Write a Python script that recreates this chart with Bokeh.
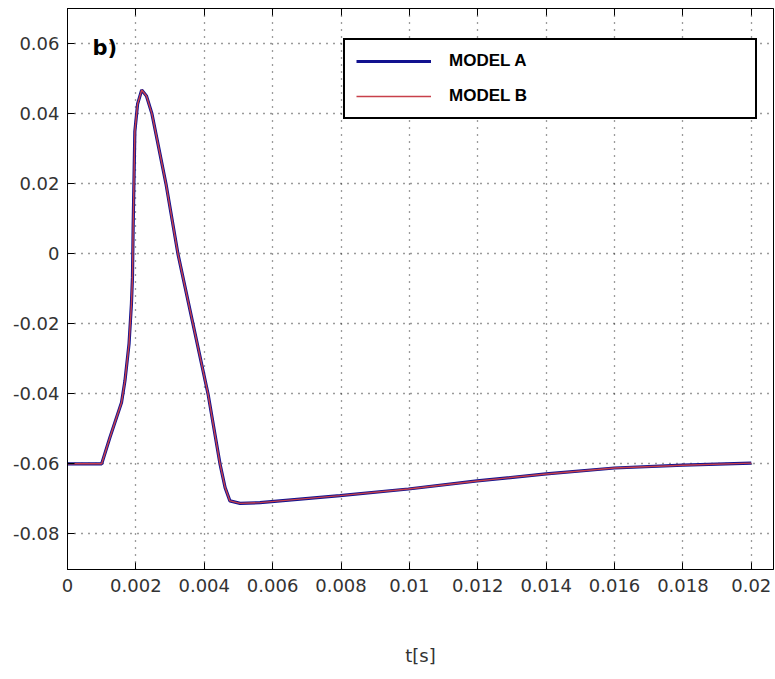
from bokeh.plotting import figure
from bokeh.models import Range1d, FixedTicker, LinearAxis, Label, Legend, LegendItem
from bokeh.embed import file_html
from bokeh.resources import INLINE

# time samples [s] and response of both models
t = [0, 0.001, 0.00124, 0.00158, 0.00168, 0.0018, 0.00187, 0.0019, 0.00192,
     0.00197, 0.00205, 0.00217, 0.00231, 0.00247, 0.00288, 0.00323, 0.00367,
     0.00411, 0.00446, 0.00461, 0.00475, 0.00505, 0.00563, 0.00797, 0.00997,
     0.01198, 0.014, 0.016, 0.018, 0.02]
model_a = [-0.06, -0.06, -0.0525, -0.0425, -0.0363, -0.0257, -0.0143, -0.0068,
           0.0075, 0.035, 0.0428, 0.0468, 0.0451, 0.04, 0.02, 0.0, -0.02, -0.04,
           -0.06, -0.0668, -0.0706, -0.0713, -0.0711, -0.0691, -0.0672, -0.0649,
           -0.0629, -0.0612, -0.0604, -0.0598]
model_b = [-0.06, -0.06, -0.0525, -0.0425, -0.0363, -0.0257, -0.0143, -0.0068,
           0.0075, 0.035, 0.0428, 0.0468, 0.0451, 0.04, 0.02, 0.0, -0.02, -0.04,
           -0.06, -0.0668, -0.0706, -0.0713, -0.0711, -0.0691, -0.0672, -0.0649,
           -0.0629, -0.0612, -0.0604, -0.0598]

x_ticks = [0, 0.002, 0.004, 0.006, 0.008, 0.01, 0.012, 0.014, 0.016, 0.018, 0.02]
x_tick_labels = ["0", "0.002", "0.004", "0.006", "0.008", "0.01", "0.012",
                 "0.014", "0.016", "0.018", "0.02"]
y_ticks = [-0.08, -0.06, -0.04, -0.02, 0, 0.02, 0.04, 0.06]
y_tick_labels = ["-0.08", "-0.06", "-0.04", "-0.02", "0", "0.02", "0.04", "0.06"]

FONT = "DejaVu Sans"
TICK_COLOR = "#333333"

p = figure(width=775, height=679, output_backend="svg", toolbar_location=None,
           x_range=Range1d(0, 0.02065), y_range=Range1d(-0.0902, 0.0701),
           min_border_left=67, min_border_right=2, min_border_top=8,
           min_border_bottom=110)
p.background_fill_color = "white"
p.border_fill_color = "white"
p.outline_line_color = "black"
p.outline_line_width = 1

for ax in (p.xaxis[0], p.yaxis[0]):
    ax.major_tick_in = 7
    ax.major_tick_out = 0
    ax.minor_tick_line_color = None
    ax.axis_line_color = "black"
    ax.major_tick_line_color = "black"
    ax.major_label_text_font = FONT
    ax.major_label_text_font_size = "18px"
    ax.major_label_text_color = TICK_COLOR

p.xaxis.ticker = FixedTicker(ticks=x_ticks)
p.xaxis.major_label_overrides = dict(zip(x_ticks, x_tick_labels))
p.xaxis.major_label_standoff = 9
p.xaxis.axis_label = "t[s]"
p.xaxis.axis_label_text_font = FONT
p.xaxis.axis_label_text_font_size = "18px"
p.xaxis.axis_label_text_font_style = "normal"
p.xaxis.axis_label_text_color = TICK_COLOR
p.xaxis.axis_label_standoff = 50

p.yaxis.ticker = FixedTicker(ticks=y_ticks)
p.yaxis.major_label_overrides = dict(zip(y_ticks, y_tick_labels))
p.yaxis.major_label_standoff = 8

# inward ticks along the top edge of the box (no labels there)
top_axis = LinearAxis(ticker=FixedTicker(ticks=x_ticks), major_tick_in=7,
                      major_tick_out=0, minor_tick_line_color=None,
                      major_label_text_font_size="0px", major_label_standoff=0,
                      major_label_text_color=None,
                      axis_line_color="black", major_tick_line_color="black")
p.add_layout(top_axis, "above")

# dotted grid
for g in (p.xgrid[0], p.ygrid[0]):
    g.grid_line_color = "#222222"
    g.grid_line_dash = "1 6"
    g.grid_line_width = 1.3
    g.grid_line_alpha = 0.9
p.xgrid.ticker = FixedTicker(ticks=x_ticks)
p.ygrid.ticker = FixedTicker(ticks=y_ticks)

ra = p.line(t, model_a, line_color="#12128f", line_width=3.2)
rb = p.line(t, model_b, line_color="#c8404a", line_width=1.4)

legend = Legend(items=[LegendItem(label="MODEL A", renderers=[ra]),
                       LegendItem(label="MODEL B", renderers=[rb])],
                location=(276, 450), orientation="vertical",
                glyph_width=75, glyph_height=16, label_height=16,
                label_width=295, label_standoff=18, padding=11, spacing=15,
                border_line_color="black", border_line_width=2,
                border_line_alpha=1,
                background_fill_color="white", background_fill_alpha=1,
                label_text_font="Liberation Sans", label_text_font_style="bold",
                label_text_font_size="17px", label_text_color="black")
p.add_layout(legend, "center")

p.add_layout(Label(x=0.00073, y=0.0589, text="b)", text_font=FONT,
                   text_font_size="21px", text_font_style="bold",
                   text_color="black", text_baseline="alphabetic"))

open("out.html", "w").write(file_html(p, INLINE))
